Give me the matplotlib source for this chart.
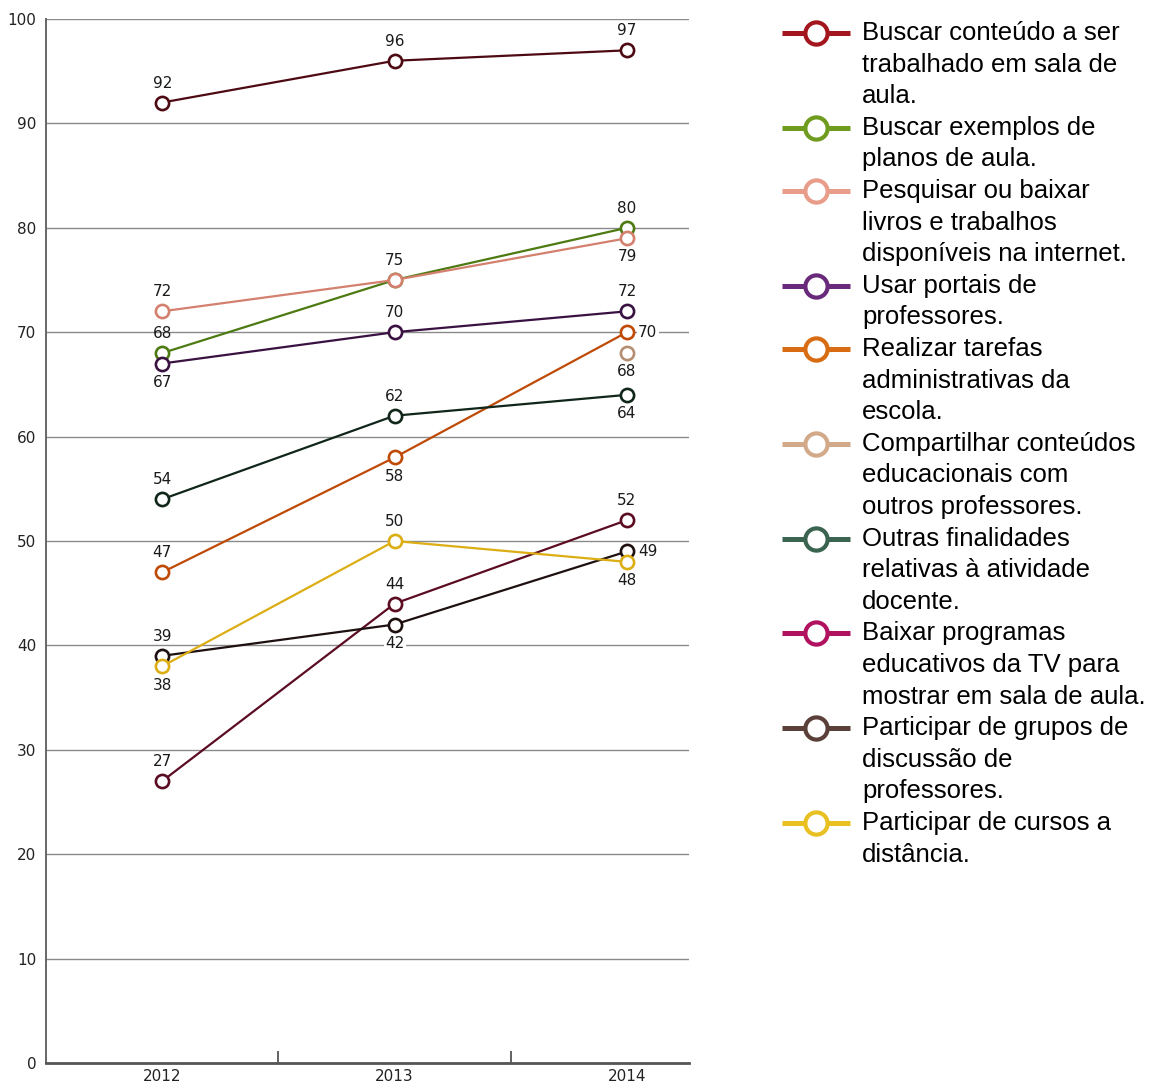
import matplotlib.pyplot as plt
import numpy as np
from matplotlib.lines import Line2D

years = ["2012", "2013", "2014"]

conteudo = [92, 96, 97]
planos = [68, 75, 80]
livros = [72, 75, 79]
portais = [67, 70, 72]
tarefas = [47, 58, 70]
compartilhar = [np.nan, np.nan, 68]
outras = [54, 62, 64]
programas_tv = [27, 44, 52]
grupos = [39, 42, 49]
cursos = [38, 50, 48]

legend_labels = [
    ["Buscar conteúdo a ser", "trabalhado em sala de", "aula."],
    ["Buscar exemplos de", "planos de aula."],
    ["Pesquisar ou baixar", "livros e trabalhos", "disponíveis na internet."],
    ["Usar portais de", "professores."],
    ["Realizar tarefas", "administrativas da", "escola."],
    ["Compartilhar conteúdos", "educacionais com", "outros professores."],
    ["Outras finalidades", "relativas à atividade", "docente."],
    ["Baixar programas", "educativos da TV para", "mostrar em sala de aula."],
    ["Participar de grupos de", "discussão de", "professores."],
    ["Participar de cursos a", "distância."],
]

series = [conteudo, planos, livros, portais, tarefas,
          compartilhar, outras, programas_tv, grupos, cursos]

# colour of the line in the chart / colour of the legend swatch
line_colors = ["#4e0a12", "#4d7a12", "#d4806e", "#3a1242", "#bf4a06",
               "#b58e72", "#10261a", "#5c0c22", "#1e1010", "#dcae14"]
legend_colors = ["#a3161e", "#6f9c1e", "#e89c8a", "#6a2a7c", "#d86c12",
                 "#d2aa8a", "#3a6450", "#b01260", "#5a4038", "#e8c022"]

# where each value label sits: a=above, b=below, r=right, None=no label
label_pos = [
    ["a", "a", "a"],
    ["a", "a", "a"],
    ["a", None, "b"],
    ["b", "a", "a"],
    ["a", "b", "r"],
    [None, None, "b"],
    ["a", "a", "b"],
    ["a", "a", "a"],
    ["a", "b", "r"],
    ["b", "a", "b"],
]

plt.rcParams["font.family"] = ["DejaVu Sans"]

W, H = 1158, 1088
fig = plt.figure(figsize=(W / 100, H / 100), dpi=100)
ax = fig.add_axes([46 / W, 1 - 1063 / H, (689 - 46) / W, (1063 - 19) / H])

x = np.arange(len(years))
for vals, col, pos in zip(series, line_colors, label_pos):
    ax.plot(x, vals, color=col, linewidth=1.6, marker="o", markersize=9.5,
            markerfacecolor="white", markeredgecolor=col, markeredgewidth=1.9,
            zorder=3)
    for xi, v, p in zip(x, vals, pos):
        if p is None or np.isnan(v):
            continue
        if p == "a":
            off, ha, va = (0, 14), "center", "center"
        elif p == "b":
            off, ha, va = (0, -13.5), "center", "center"
        else:
            off, ha, va = (8, 0), "left", "center"
        bbox = dict(facecolor="white", edgecolor="none", pad=1) if p == "r" or (p == "b" and v == 42) else None
        ax.annotate(f"{v:.0f}", (xi, v), xytext=off, textcoords="offset points",
                    ha=ha, va=va, fontsize=11, color="#1a1a1a", bbox=bbox,
                    zorder=4)

ax.set_xlim(-0.5, 2.267)
ax.set_ylim(0, 100)
ax.set_yticks(np.arange(0, 101, 10))
ax.set_xticks(x)
ax.set_xticklabels(years)
ax.set_xticks([0.5, 1.5], minor=True)
ax.tick_params(axis="y", length=0, pad=7, labelsize=11, labelcolor="#222222")
ax.tick_params(axis="x", which="major", length=0, pad=4, labelsize=11, labelcolor="#222222")
ax.tick_params(axis="x", which="minor", direction="in", length=9, width=1.3, color="#555555")
ax.yaxis.grid(True, color="#8a8a8a", linewidth=1)
ax.set_axisbelow(True)
for s in ["top", "right"]:
    ax.spines[s].set_visible(False)
ax.spines["left"].set_color("#666666")
ax.spines["left"].set_linewidth(1.4)
ax.spines["bottom"].set_color("#555555")
ax.spines["bottom"].set_linewidth(2)

# legend drawn by hand so the swatch lines up with the first text line
y = 33
pitch = 31.6
for lines, col in zip(legend_labels, legend_colors):
    fy = 1 - y / H
    fig.add_artist(Line2D([782 / W, 850 / W], [fy, fy], transform=fig.transFigure,
                          color=col, linewidth=3.6, solid_capstyle="butt"))
    fig.add_artist(Line2D([816 / W], [fy], transform=fig.transFigure, marker="o",
                          markersize=16, markerfacecolor="white", markeredgecolor=col,
                          markeredgewidth=3, linestyle="none"))
    for i, t in enumerate(lines):
        fig.text(862 / W, 1 - (y + i * pitch) / H, t, fontsize=18.5,
                 family="Liberation Sans", ha="left", va="center", color="#000000")
    y += pitch * len(lines)

fig.savefig("out.png", dpi=100)
